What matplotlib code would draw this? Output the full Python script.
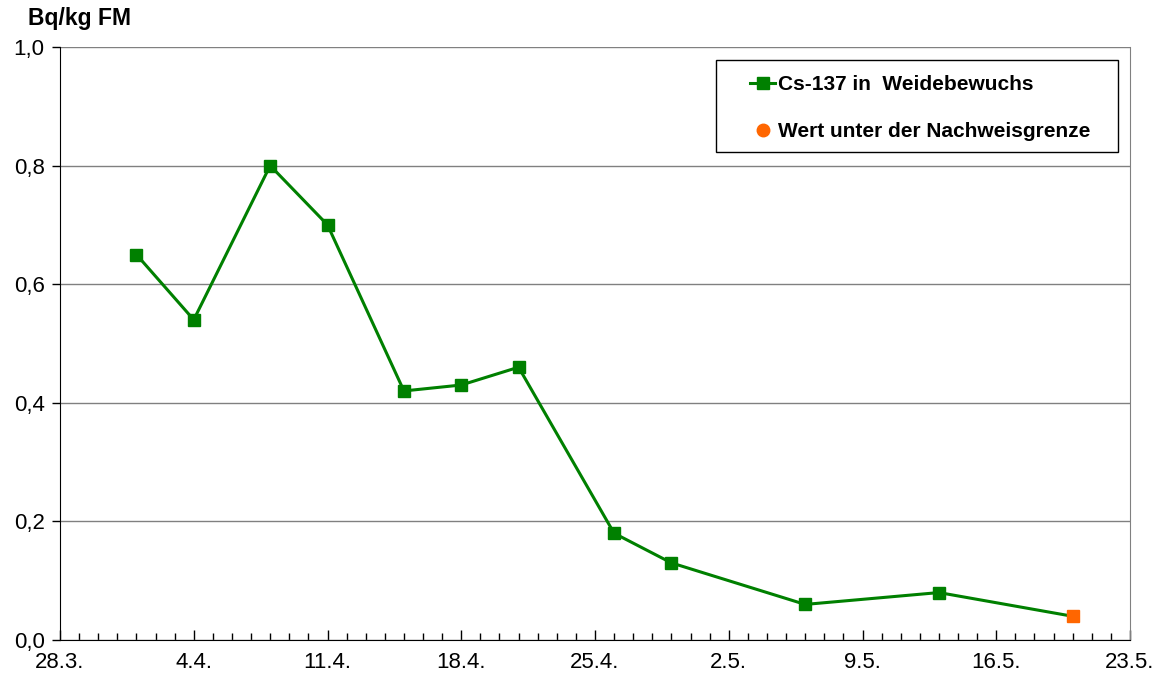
import datetime as dt
import matplotlib
matplotlib.use('Agg')
import matplotlib.pyplot as plt
import matplotlib.dates as mdates
from matplotlib.lines import Line2D
from matplotlib.patches import Rectangle
from matplotlib.ticker import FuncFormatter

plt.rcParams['font.family'] = ['Liberation Sans', 'DejaVu Sans']

# measurement dates (day, month) and Cs-137 values in Bq/kg FM
dates = [(1, 4), (4, 4), (8, 4), (11, 4), (15, 4), (18, 4), (21, 4),
         (26, 4), (29, 4), (6, 5), (13, 5), (20, 5)]
values = [0.65, 0.54, 0.80, 0.70, 0.42, 0.43, 0.46, 0.18, 0.13, 0.06, 0.08, 0.04]
below_limit = [False] * 11 + [True]

green = '#008000'
orange = '#FF6600'

x = [dt.date(2011, m, d) for d, m in dates]

fig = plt.figure(figsize=(11.59, 6.79), dpi=100)
ax = fig.add_axes([60 / 1159, 39 / 679, 1070 / 1159, 593 / 679])

ax.plot(x, values, color=green, lw=2.2, zorder=3)
for xi, yi, bl in zip(x, values, below_limit):
    ax.plot(xi, yi, 's', ms=9, color=orange if bl else green, zorder=4)

ax.set_xlim(dt.date(2011, 3, 28), dt.date(2011, 5, 23))
ax.set_ylim(0, 1.0)
ax.set_yticks([0, 0.2, 0.4, 0.6, 0.8, 1.0])
ax.yaxis.set_major_formatter(FuncFormatter(lambda v, p: f'{v:.1f}'.replace('.', ',')))
ax.yaxis.grid(True, color='#808080', lw=1)
ax.set_axisbelow(True)

ax.set_xticks([dt.date(2011, 3, 28) + dt.timedelta(days=7 * i) for i in range(9)])
ax.xaxis.set_major_formatter(mdates.DateFormatter('%-d.%-m.'))
ax.xaxis.set_minor_locator(mdates.DayLocator())
ax.tick_params(axis='x', which='major', direction='in', length=7, width=1, labelsize=16, pad=9)
ax.tick_params(axis='x', which='minor', direction='in', length=5, width=1)
ax.tick_params(axis='y', direction='out', length=6, width=1, labelsize=16, pad=5)

ax.spines['top'].set_visible(False)
ax.spines['right'].set_color('#808080')
ax.spines['left'].set_color('black')
ax.spines['bottom'].set_color('black')

fig.text(28 / 1159, 1 - 19 / 679, 'Bq/kg FM', fontsize=16.5, fontweight='bold', va='center')

# legend box (wider than its content, like the original)
ax.add_patch(Rectangle((716 / 1159, 1 - 152 / 679), 402 / 1159, 92 / 679,
                       transform=fig.transFigure, facecolor='white',
                       edgecolor='black', lw=1, zorder=5, clip_on=False))
handles = [Line2D([], [], color=green, lw=2.2, marker='s', ms=9),
           Line2D([], [], color=orange, lw=0, marker='o', ms=9)]
leg = ax.legend(handles, ['Cs-137 in  Weidebewuchs', 'Wert unter der Nachweisgrenze'],
                loc='upper left', bbox_to_anchor=(750 / 1159, 1 - 75 / 679),
                bbox_transform=fig.transFigure, frameon=False,
                prop={'weight': 'bold', 'size': 15}, borderpad=0, labelspacing=1.35,
                handlelength=1.2, handletextpad=0.15, borderaxespad=0)
leg.set_zorder(6)

fig.savefig('out.png', dpi=100)
